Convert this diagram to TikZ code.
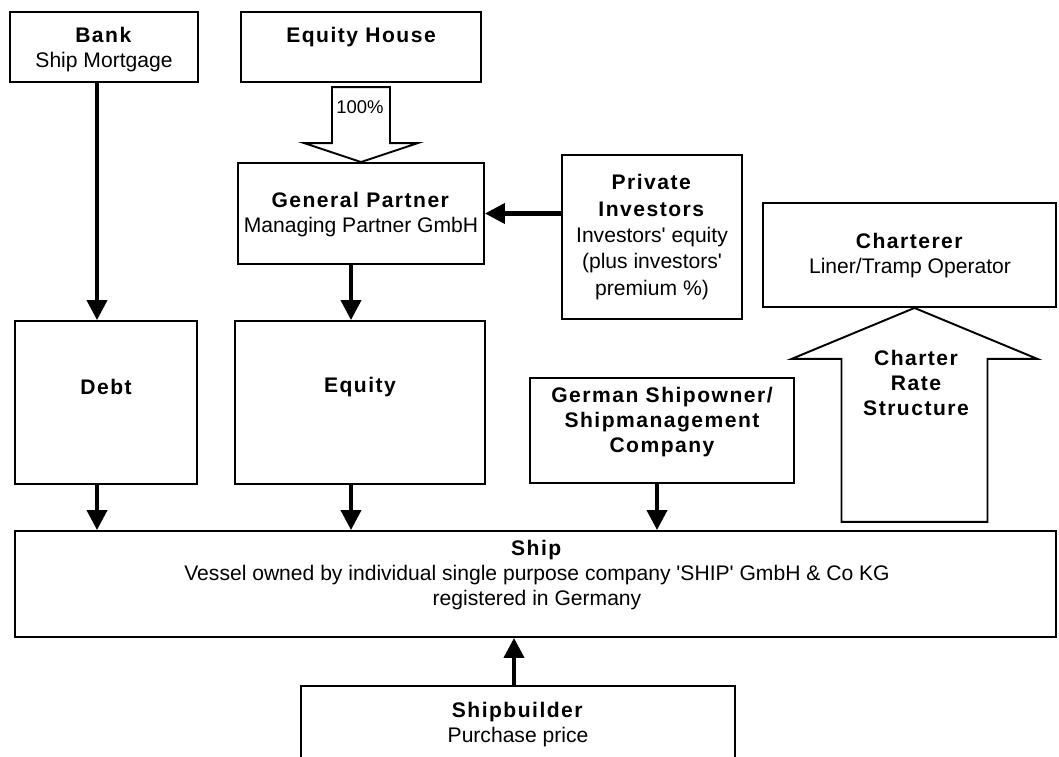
\documentclass[tikz,border=0pt]{standalone}
\usepackage{fontspec}
\setmainfont{Liberation Sans}[BoldFeatures={LetterSpace=7}]
\usepackage{tikz}
\usetikzlibrary{arrows.meta}
\tikzstyle{box}=[draw,line width=1.1pt,rectangle,inner sep=0pt]
\tikzstyle{txt}=[align=center,inner sep=0pt,font=\fontsize{12}{14.2}\selectfont]
\tikzstyle{hd}=[txt,font=\fontsize{12}{14.2}\selectfont\bfseries]
\tikzstyle{conn}=[draw,line width=2.3pt,-{Triangle[length=0.4cm,width=0.4cm]}]
\tikzstyle{fat}=[draw,line width=1.1pt,line join=miter,fill=white]

\begin{document}
\begin{tikzpicture}[x=0.02cm,y=-0.02cm]
        \useasboundingbox (0,0) rectangle (1059,757);
        \clip (0,0) rectangle (1059,757);
        % boxes
        \node[box,minimum width=3.76cm,minimum height=1.4cm] (bank) at (104,47) {};
        \node[box,minimum width=4.8cm,minimum height=1.4cm] (house) at (361,47) {};
        \node[box,minimum width=4.92cm,minimum height=2.02cm] (gp) at (361,213.5) {};
        \node[box,minimum width=3.6cm,minimum height=3.28cm] (priv) at (652,237) {};
        \node[box,minimum width=5.86cm,minimum height=2.08cm] (charterer) at (909.5,255) {};
        \node[box,minimum width=3.64cm,minimum height=3.26cm] (debt) at (106,402.5) {};
        \node[box,minimum width=5.0cm,minimum height=3.26cm] (equity) at (360,402.5) {};
        \node[box,minimum width=5.28cm,minimum height=2.1cm] (gso) at (662,430.5) {};
        \node[box,minimum width=20.82cm,minimum height=2.12cm] (ship) at (535.5,584) {};
        \node[box,minimum width=8.68cm,minimum height=2.28cm] (builder) at (518,743) {};
        % texts
        \node[txt] (banktxt) at (104,49.5) {\textbf{Bank}\\Ship Mortgage};
        \node[hd] (housetxt) at (361,37) {Equity House};
        \node[txt] (gptxt) at (361,215) {\textbf{General Partner}\\Managing Partner GmbH};
        \node[txt,font=\fontsize{12}{15}\selectfont] (privtxt) at (652,237) {\textbf{Private}\\\textbf{Investors}\\Investors\textquotesingle{} equity\\(plus investors\textquotesingle\\premium \%)};
        \node[txt] (chartxt) at (910,255.5) {\textbf{Charterer}\\Liner/Tramp Operator};
        \node[hd] (debttxt) at (106,387) {Debt};
        \node[hd] (equitytxt) at (360,387) {Equity};
        \node[hd] (gsotxt) at (662,422) {German Shipowner/\\Shipmanagement\\Company};
        \node[txt] (shiptxt) at (537,575) {\textbf{Ship}\\Vessel owned by individual single purpose company \textquotesingle SHIP\textquotesingle{} GmbH \& Co KG\\registered in Germany};
        \node[txt] (buildertxt) at (518,724.5) {\textbf{Shipbuilder}\\Purchase price};
        % hollow arrows
        \draw[fat] (gp.north) -- ++(-57,-19) -- ++(28,0) -- ++(0,-56) -- ++(58,0) -- ++(0,56) -- ++(28,0) -- cycle;
        \node[txt,font=\fontsize{10.5}{12}\selectfont] (pct) at (360,107) {100\%};
        \draw[fat] ([xshift=0.1cm]charterer.south) -- ++(-123,51) -- ++(50,0) -- ++(0,163) -- ++(146,0) -- ++(0,-163) -- ++(50,0) -- cycle;
        \node[hd] (ratetxt) at (916,383) {Charter\\Rate\\Structure};
        % connectors
        \draw[conn] ([xshift=-0.14cm]bank.south) -- ([xshift=-0.14cm]bank.south |- debt.north);
        \draw[conn] ([xshift=-0.2cm]gp.south) -- ([xshift=-0.2cm]gp.south |- equity.north);
        \draw[conn] (priv.west |- gp.east) -- (gp.east);
        \draw[conn] ([xshift=-0.18cm]debt.south) -- ([xshift=-0.18cm]debt.south |- ship.north);
        \draw[conn] ([xshift=-0.18cm]equity.south) -- ([xshift=-0.18cm]equity.south |- ship.north);
        \draw[conn] ([xshift=-0.1cm]gso.south) -- ([xshift=-0.1cm]gso.south |- ship.north);
        \draw[conn] ([xshift=-0.08cm]builder.north) -- ([xshift=-0.08cm]builder.north |- ship.south);
      \end{tikzpicture}
\end{document}
